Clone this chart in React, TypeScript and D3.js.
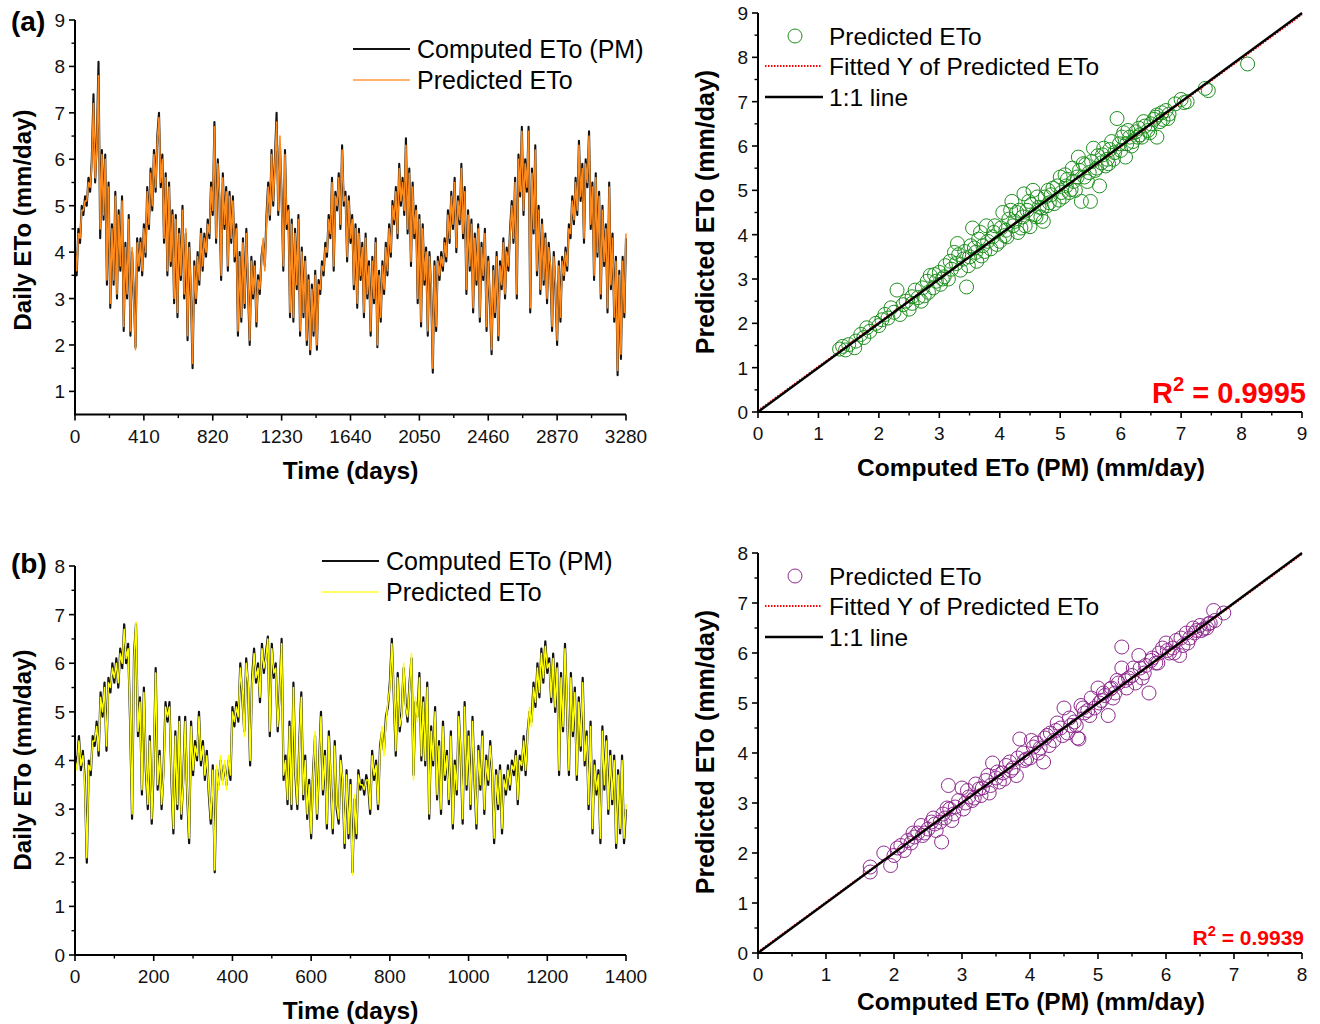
import React from 'react';
import * as d3 from 'd3';

const FONT = '"Liberation Sans", Arial, Helvetica, sans-serif';

// ---------- Panel (a) time series : daily ETo, one value every 10 days ----------
const tsAStepDays = 10;
const tsAComputed = [
  4.0,3.5,4.5,4.2,5.0,4.8,5.2,5.0,5.6,5.3,
  6.0,7.4,5.5,6.4,8.1,4.3,6.2,4.7,6.1,3.3,
  5.5,2.8,4.6,3.3,5.3,3.0,4.9,3.6,5.2,2.3,
  4.2,3.0,4.8,2.2,4.0,3.1,1.95,4.3,3.6,4.3,
  3.5,4.6,3.9,5.4,4.5,5.8,4.9,6.2,5.3,6.5,
  7.0,5.4,6.1,4.2,5.7,3.5,5.5,3.7,4.9,2.9,
  4.8,2.6,4.5,3.4,5.0,3.0,4.4,2.1,4.2,3.1,
  1.5,3.8,2.9,4.0,3.3,4.5,3.6,4.4,3.9,4.7,
  4.3,5.5,4.8,6.8,4.2,6.0,5.1,3.4,5.7,4.5,
  5.4,3.6,5.3,4.2,5.2,3.8,4.6,2.2,4.0,2.5,
  4.3,2.8,4.5,3.2,2.0,3.9,3.0,3.8,2.4,3.5,
  3.1,3.9,4.2,3.7,4.8,5.5,4.7,6.2,5.0,6.0,
  7.0,4.8,6.3,5.2,3.6,6.2,4.5,5.0,2.6,4.7,
  2.5,4.5,3.2,4.8,2.2,4.1,2.6,3.9,2.0,3.5,
  1.8,3.3,2.2,3.6,1.9,3.4,3.1,3.8,3.5,4.2,
  3.9,4.8,4.3,5.6,3.6,5.3,4.9,5.7,4.5,6.3,
  5.0,5.3,3.8,5.2,4.2,4.8,3.2,4.6,2.8,4.5,
  3.4,4.2,2.6,4.4,3.0,3.8,2.2,3.9,2.9,4.3,
  1.95,3.6,2.5,3.8,3.1,4.2,3.5,4.6,3.9,5.1,
  4.6,5.4,4.3,5.9,5.0,5.6,4.8,6.45,4.4,5.8,
  3.7,5.5,4.3,5.0,2.9,4.8,2.4,4.6,3.3,4.1,
  2.2,4.0,3.2,1.4,3.8,2.3,3.9,3.4,4.0,3.6,
  4.3,3.8,4.9,4.2,5.3,4.5,5.6,4.0,5.2,4.6,
  5.9,4.3,5.4,3.1,4.9,3.6,4.7,2.7,4.4,3.3,
  4.6,2.5,4.2,3.4,4.5,2.3,3.9,2.9,1.8,3.7,
  2.6,4.0,2.1,3.8,3.2,4.3,3.0,4.1,3.6,4.5,
  5.1,4.2,5.6,3.0,6.1,5.2,6.7,4.8,6.0,5.3,
  6.7,2.7,5.8,4.4,6.3,3.5,5.0,3.1,4.7,3.3,
  4.4,2.9,4.2,3.6,2.3,4.0,3.2,2.0,3.8,2.5,
  3.9,3.4,4.1,3.6,4.6,4.3,5.2,4.6,5.6,4.8,
  6.4,5.1,5.9,4.2,6.0,5.4,6.6,4.5,5.5,3.4,
  5.7,3.9,5.3,3.0,5.0,3.7,4.6,2.7,5.5,3.2,
  4.4,2.5,3.9,1.35,3.6,1.7,3.9,2.6,4.3,
];
const tsAPredicted = [
  4.1,3.6,4.4,4.3,4.9,4.9,5.1,5.1,5.5,5.4,
  5.9,7.2,5.6,6.3,7.8,4.5,6.1,4.8,6.0,3.4,
  5.4,2.9,4.5,3.4,5.2,3.1,4.8,3.7,5.1,2.4,
  4.1,3.1,4.7,2.3,4.1,3.0,1.9,4.2,3.7,4.2,
  3.6,4.5,4.0,5.3,4.6,5.7,5.0,6.1,5.4,6.4,
  6.9,5.5,6.0,4.3,5.6,3.6,5.4,3.8,4.8,3.0,
  4.7,2.7,4.4,3.5,4.9,3.1,4.5,2.2,4.1,3.2,
  1.6,3.7,3.0,3.9,3.4,4.4,3.7,4.3,4.0,4.6,
  4.4,5.4,4.9,6.7,4.3,5.9,5.2,3.5,5.6,4.6,
  5.3,3.7,5.2,4.3,5.1,3.9,4.5,2.3,3.9,2.6,
  4.2,2.9,4.4,3.3,2.1,3.8,3.1,3.7,2.5,3.4,
  3.2,3.8,4.3,3.6,4.7,5.4,4.8,6.1,5.1,5.9,
  6.8,4.9,6.5,5.1,3.7,6.1,4.6,4.9,2.7,4.6,
  2.6,4.4,3.3,4.7,2.3,4.0,2.7,3.8,2.1,3.4,
  1.9,3.2,2.3,3.5,2.0,3.3,3.2,3.7,3.6,4.1,
  4.0,4.7,4.4,5.5,3.7,5.2,5.0,5.6,4.6,6.2,
  5.1,5.2,3.9,5.1,4.3,4.7,3.3,4.5,2.9,4.4,
  3.5,4.1,2.7,4.3,3.1,3.7,2.3,3.8,3.0,4.2,
  2.0,3.5,2.6,3.7,3.2,4.1,3.6,4.5,4.0,5.0,
  4.7,5.3,4.4,5.8,5.1,5.5,4.9,6.3,4.5,5.7,
  3.8,5.4,4.4,4.9,3.0,4.7,2.5,4.5,3.4,4.0,
  2.3,3.9,3.3,1.5,3.7,2.4,3.8,3.5,3.9,3.7,
  4.2,3.9,4.8,4.3,5.2,4.6,5.5,4.1,5.1,4.7,
  5.8,4.4,5.3,3.2,4.8,3.7,4.6,2.8,4.3,3.4,
  4.5,2.6,4.1,3.5,4.4,2.4,3.8,3.0,1.9,3.6,
  2.7,3.9,2.2,3.7,3.3,4.2,3.1,4.0,3.7,4.4,
  5.0,4.3,5.5,3.1,6.0,5.3,6.6,4.9,5.9,5.4,
  6.6,2.8,5.7,4.5,6.2,3.6,4.9,3.2,4.6,3.4,
  4.3,3.0,4.1,3.7,2.4,3.9,3.3,2.1,3.7,2.6,
  3.8,3.5,4.0,3.7,4.5,4.4,5.1,4.7,5.5,4.9,
  6.3,5.2,5.8,4.3,5.9,5.5,6.5,4.6,5.4,3.5,
  5.6,4.0,5.2,3.1,4.9,3.8,4.5,2.8,5.4,3.3,
  4.3,2.6,3.8,1.45,3.5,1.8,3.8,2.7,4.4,
];
const tsAXTicks = [0, 410, 820, 1230, 1640, 2050, 2460, 2870, 3280];
const tsAYTicks = [1, 2, 3, 4, 5, 6, 7, 8, 9];

// ---------- Panel (b) time series : one value every 5 days ----------
const tsBStepDays = 5;
const tsBComputed = [
  4.1,3.9,4.5,3.8,4.2,3.6,1.9,4.0,3.7,4.5,4.3,4.8,4.1,5.4,4.9,5.6,4.2,5.7,5.4,6.0,
  5.6,6.1,5.5,6.3,5.9,6.8,6.0,6.4,4.8,2.8,6.2,6.8,4.5,5.3,3.3,5.5,3.8,3.0,4.5,2.7,
  3.9,5.9,3.4,4.2,3.0,3.8,5.2,4.8,5.2,3.6,2.5,4.6,3.0,4.9,2.8,3.6,4.9,3.3,2.3,4.8,
  3.7,4.4,4.0,5.0,3.9,4.4,3.6,4.2,3.3,2.7,3.9,1.7,3.8,3.5,4.0,3.6,3.9,3.5,4.0,3.6,
  5.1,4.7,5.2,4.8,6.0,5.3,4.6,6.1,5.5,3.9,5.7,6.3,5.6,6.0,5.2,6.4,5.8,6.2,6.55,4.5,
  6.4,5.7,6.0,4.6,5.4,6.5,3.6,4.1,3.1,4.8,3.0,5.6,3.7,3.0,4.4,5.4,3.2,4.1,2.8,3.6,
  2.4,3.8,4.5,2.8,3.9,5.0,3.3,4.2,2.6,4.6,3.5,2.5,4.4,3.0,2.7,4.1,3.5,2.2,3.8,2.4,
  3.6,1.7,3.2,2.4,3.8,3.4,3.6,3.3,3.7,3.5,2.9,4.2,3.6,4.0,3.0,4.3,4.6,4.2,4.9,5.1,
  5.6,6.5,5.3,4.1,5.8,4.6,5.0,5.9,5.2,4.8,5.6,6.1,3.7,5.2,4.9,5.8,4.0,5.3,3.9,5.6,
  2.8,4.7,3.9,5.1,3.2,4.4,2.9,4.8,3.6,4.2,3.1,4.6,2.6,4.0,3.3,5.0,4.1,2.7,5.2,3.4,
  4.6,3.0,4.9,3.6,2.6,4.3,3.4,4.6,2.9,4.1,3.5,4.4,3.7,2.3,3.8,3.0,3.9,2.5,3.7,3.3,
  3.9,3.4,4.0,3.7,4.2,3.1,4.1,3.8,4.5,3.7,4.6,5.0,4.8,5.6,5.1,6.0,5.3,6.3,5.6,6.45,
  5.8,6.1,5.2,6.2,5.0,6.0,3.7,5.8,4.6,6.4,5.1,3.7,5.8,4.5,5.5,3.6,5.3,4.2,5.7,3.9,
  4.6,3.0,4.8,2.5,4.0,3.3,3.8,2.3,4.7,3.4,4.5,2.9,4.2,3.1,4.1,2.2,3.8,2.5,4.1,2.3,
  3.0,
];
const tsBPredicted = [
  4.0,3.8,4.4,3.9,4.1,3.5,2.0,3.9,3.8,4.4,4.4,4.7,4.2,5.3,5.0,5.5,4.3,5.6,5.5,5.9,
  5.7,6.0,5.6,6.2,6.0,6.7,6.1,6.3,4.9,2.9,6.1,6.85,4.6,5.2,3.4,5.4,3.9,3.1,4.4,2.8,
  4.0,5.8,3.5,4.1,3.1,3.7,5.1,4.9,5.1,3.7,2.6,4.5,3.1,4.8,2.9,3.5,4.8,3.4,2.4,4.7,
  3.8,4.3,4.1,4.9,4.0,4.3,3.7,4.1,3.4,2.8,3.8,1.75,3.9,3.4,4.1,3.5,4.0,3.4,4.1,3.7,
  5.0,4.8,5.1,4.9,5.9,5.4,4.5,6.0,5.6,4.0,5.6,6.2,5.7,5.9,5.3,6.3,5.9,6.1,6.5,4.6,
  6.3,5.8,5.9,4.7,5.3,6.4,3.7,4.0,3.2,4.7,3.1,5.5,3.8,3.1,4.3,5.3,3.3,4.0,2.9,3.5,
  2.5,3.7,4.6,2.9,3.8,4.9,3.4,4.1,2.7,4.5,3.6,2.6,4.3,3.1,2.8,4.0,3.6,2.3,3.7,2.5,
  3.5,1.65,3.3,2.5,3.7,3.5,3.5,3.4,3.6,3.6,3.0,4.1,3.7,3.9,3.1,4.2,4.7,4.1,4.8,5.2,
  5.5,6.4,5.4,4.2,5.7,4.7,4.9,6.0,5.1,4.9,5.5,6.2,3.6,5.3,4.8,5.7,4.1,5.2,4.0,5.5,
  2.9,4.6,4.0,5.0,3.3,4.3,3.0,4.7,3.7,4.1,3.2,4.5,2.7,3.9,3.4,4.9,4.2,2.8,5.1,3.5,
  4.5,3.1,4.8,3.7,2.7,4.2,3.5,4.5,3.0,4.0,3.6,4.3,3.8,2.4,3.7,3.1,3.8,2.6,3.6,3.4,
  3.8,3.5,3.9,3.8,4.1,3.2,4.0,3.9,4.4,3.8,4.5,5.1,4.7,5.5,5.2,5.9,5.4,6.2,5.7,6.35,
  5.9,6.0,5.3,6.1,5.1,5.9,3.8,5.7,4.7,6.3,5.2,3.8,5.7,4.6,5.4,3.7,5.2,4.3,5.6,4.0,
  4.5,3.1,4.7,2.6,3.9,3.4,3.7,2.4,4.6,3.5,4.4,3.0,4.1,3.2,4.0,2.3,3.7,2.6,4.0,2.4,
  3.1,
];
const tsBXTicks = [0, 200, 400, 600, 800, 1000, 1200, 1400];
const tsBYTicks = [0, 1, 2, 3, 4, 5, 6, 7, 8];

// ---------- Panel (a) scatter ----------
const scAComputed = [
  1.35,1.4,1.45,1.5,1.6,1.62,1.7,1.75,1.8,1.85,1.95,2.0,2.05,2.1,2.15,2.2,2.25,2.3,2.35,2.4,
  2.45,2.5,2.55,2.6,2.65,2.7,2.72,2.8,2.82,2.85,2.9,2.95,3.0,3.02,3.08,3.1,3.15,3.2,3.25,3.28,
  3.3,3.35,3.4,3.45,3.48,3.5,3.52,3.55,3.6,3.62,3.65,3.7,3.72,3.78,3.8,3.85,3.88,3.9,3.95,4.0,
  4.02,4.05,4.08,4.1,4.15,4.2,4.22,4.25,4.3,4.32,4.38,4.4,4.42,4.45,4.5,4.52,4.55,4.58,4.6,4.65,
  4.7,4.72,4.75,4.8,4.82,4.85,4.9,4.95,5.0,5.02,5.05,5.1,5.12,5.18,5.2,5.25,5.28,5.3,5.32,5.35,
  5.4,5.42,5.48,5.5,5.52,5.55,5.6,5.62,5.65,5.68,5.7,5.75,5.8,5.82,5.85,5.9,5.94,5.98,6.0,6.02,
  6.05,6.08,6.1,6.15,6.2,6.25,6.3,6.32,6.35,6.4,6.45,6.5,6.55,6.6,6.6,6.65,6.7,6.75,6.8,6.9,
  7.0,7.05,7.1,7.4,7.45,8.1,
  2.55,2.75,2.92,3.05,3.18,3.32,3.42,3.58,3.68,3.75,3.92,4.12,4.18,4.28,4.35,4.48,4.62,4.68,4.78,4.88,
  4.98,5.08,5.15,5.22,5.38,5.45,5.58,5.72,5.78,5.88,6.12,6.18,6.28,6.38,6.48,6.58,6.68,6.78,
];
const scAPredicted = [
  1.42,1.48,1.4,1.52,1.45,1.6,1.75,1.68,1.9,1.82,2.0,1.95,2.08,2.2,2.12,2.35,2.25,2.75,2.2,2.42,
  2.5,2.32,2.6,2.75,2.58,2.5,2.8,2.95,2.7,3.08,2.8,2.95,3.15,2.88,3.05,3.3,3.0,3.22,3.6,3.35,
  3.8,3.2,3.45,2.82,3.3,3.5,3.75,4.15,3.6,3.4,3.9,3.52,3.75,4.2,3.85,3.68,3.95,4.05,3.78,3.85,
  4.15,4.5,3.98,4.1,4.35,4.75,4.2,4.3,4.05,4.55,4.4,4.92,4.2,4.55,4.18,4.68,5.0,4.45,4.4,4.62,
  4.6,4.3,4.85,5.0,4.72,4.9,4.7,5.1,5.3,4.95,4.85,5.1,5.25,5.02,5.5,5.0,5.3,5.75,5.45,4.75,
  5.3,5.58,5.4,4.75,5.65,5.95,5.5,5.78,5.1,5.62,5.8,5.55,5.6,5.92,6.1,5.85,6.62,6.05,5.9,6.2,
  6.3,5.75,6.05,6.2,6.1,6.32,6.4,6.25,6.2,6.45,6.35,6.5,6.6,6.2,6.7,6.55,6.6,6.8,6.72,6.95,
  7.05,6.98,7.0,7.3,7.25,7.85,
  2.45,2.62,3.1,3.0,3.4,3.55,3.62,3.7,4.05,3.62,4.2,3.95,4.55,4.5,4.15,4.75,4.85,4.4,4.65,5.05,
  4.78,5.35,4.95,5.2,5.6,5.2,5.45,5.95,5.7,5.7,6.35,6.0,6.2,6.55,6.3,6.65,6.75,6.62,
];
const scAFit = { intercept: 0.03, slope: 0.993 };
const scATicks = [0, 1, 2, 3, 4, 5, 6, 7, 8, 9];

// ---------- Panel (b) scatter ----------
const scBComputed = [
  1.65,1.65,1.85,1.95,2.0,2.05,2.1,2.2,2.25,2.3,2.35,2.4,2.45,2.5,2.55,2.6,2.62,2.7,2.72,2.75,
  2.8,2.82,2.85,2.9,2.95,3.0,3.02,3.05,3.1,3.15,3.2,3.25,3.3,3.35,3.4,3.42,3.45,3.5,3.52,3.6,
  3.62,3.7,3.72,3.8,3.82,3.85,3.9,3.95,4.0,4.05,4.1,4.15,4.2,4.22,4.25,4.3,4.35,4.4,4.45,4.5,
  4.55,4.6,4.65,4.7,4.72,4.75,4.8,4.85,4.9,4.95,5.0,5.02,5.05,5.1,5.15,5.18,5.2,5.25,5.3,5.35,
  5.35,5.4,5.45,5.5,5.55,5.6,5.62,5.65,5.7,5.75,5.78,5.8,5.85,5.9,5.95,6.0,6.05,6.1,6.15,6.2,
  6.25,6.3,6.35,6.4,6.45,6.5,6.55,6.6,6.65,6.7,6.72,6.85,
  2.15,2.28,2.42,2.58,2.68,2.78,2.88,3.08,3.18,3.28,3.38,3.55,3.65,3.75,3.92,4.02,4.12,4.28,4.38,4.48,
  4.58,4.68,4.78,4.88,5.08,5.22,5.28,5.42,5.52,5.68,5.88,6.02,6.12,6.22,6.32,6.42,6.52,6.62,
];
const scBPredicted = [
  1.72,1.62,2.0,1.75,1.95,2.1,2.15,2.25,2.2,2.32,2.4,2.55,2.4,2.48,2.62,2.58,2.45,2.22,2.78,2.7,
  3.35,2.88,2.65,2.92,3.05,3.3,2.88,3.0,3.12,3.05,3.38,3.28,3.3,3.45,3.2,3.35,3.8,3.5,3.62,3.6,
  3.48,3.82,3.65,3.55,3.9,4.28,4.0,3.88,3.9,4.12,4.2,4.1,3.82,4.3,4.35,4.4,4.25,4.6,4.5,4.9,
  4.4,4.55,4.62,4.3,4.28,4.95,4.8,4.85,5.1,4.9,5.3,5.0,5.05,5.15,4.75,5.28,5.3,5.2,5.4,6.12,
  5.7,5.45,5.5,5.55,5.4,5.95,5.7,5.5,5.75,5.2,5.85,5.9,5.8,6.0,6.1,6.2,6.0,6.1,6.25,5.95,
  6.15,6.4,6.3,6.5,6.45,6.55,6.48,6.5,6.6,6.85,6.65,6.8,
  2.05,2.4,2.35,2.7,2.62,2.9,2.78,3.25,3.1,3.15,3.55,3.42,3.75,3.7,3.85,4.25,4.0,4.15,4.45,4.35,
  4.7,4.55,4.9,4.75,5.2,5.1,5.45,5.3,5.7,5.6,5.8,6.05,6.0,6.3,6.2,6.4,6.45,6.58,
];
const scBFit = { intercept: 0.02, slope: 0.995 };
const scBTicks = [0, 1, 2, 3, 4, 5, 6, 7, 8];

// ---------- text ----------
const legendComputed = 'Computed ETo (PM)';
const legendPredicted = 'Predicted ETo';
const legendFitted = 'Fitted Y of Predicted ETo';
const legendOneToOne = '1:1 line';
const titleTime = 'Time (days)';
const titleDaily = 'Daily ETo (mm/day)';
const titleScX = 'Computed ETo (PM) (mm/day)';
const titleScY = 'Predicted ETo (mm/day)';
const r2A = '0.9995';
const r2B = '0.9939';

const mids = (arr: number[]) => d3.pairs(arr).map(([a, b]) => (a + b) / 2);

function Axes({ x, y, xTicks, yTicks }: any) {
  const [x0, x1] = x.range();
  const [y0, y1] = y.range();
  const xMinor = mids(xTicks);
  const yMinor = mids(yTicks);
  return (
    <g>
      {xTicks.map((t: number) => (
        <g key={'xt' + t}>
          <line x1={x(t)} x2={x(t)} y1={y0} y2={y0 + 6} stroke="#000" strokeWidth={1.6} />
          <text x={x(t)} y={y0 + 28} textAnchor="middle" fontSize={19} fill="#111">{t}</text>
        </g>
      ))}
      {xMinor.map((t: number) => (
        <line key={'xm' + t} x1={x(t)} x2={x(t)} y1={y0} y2={y0 + 3.5} stroke="#000" strokeWidth={1.4} />
      ))}
      {yTicks.map((t: number) => (
        <g key={'yt' + t}>
          <line x1={x0 - 6} x2={x0} y1={y(t)} y2={y(t)} stroke="#000" strokeWidth={1.6} />
          <text x={x0 - 10} y={y(t) + 7} textAnchor="end" fontSize={19} fill="#111">{t}</text>
        </g>
      ))}
      {yMinor.map((t: number) => (
        <line key={'ym' + t} x1={x0 - 3.5} x2={x0} y1={y(t)} y2={y(t)} stroke="#000" strokeWidth={1.4} />
      ))}
      <line x1={x0} x2={x1} y1={y0} y2={y0} stroke="#000" strokeWidth={2} />
      <line x1={x0} x2={x0} y1={y0 + 1} y2={y1} stroke="#000" strokeWidth={2} />
    </g>
  );
}

function YTitle({ cx, cy, text, size }: any) {
  return (
    <text transform={`translate(${cx},${cy}) rotate(-90)`} textAnchor="middle" dy="0.36em"
      fontSize={size} fontWeight="bold" fill="#000">{text}</text>
  );
}

function TimeSeries({ p }: any) {
  const x = d3.scaleLinear().domain(p.xDomain).range(p.xRange);
  const y = d3.scaleLinear().domain(p.yDomain).range(p.yRange);
  const line = d3.line<number>().x((_, i) => x(i * p.step)).y((d) => y(d));
  const cx = (p.xRange[0] + p.xRange[1]) / 2;
  return (
    <g>
      <path d={line(p.computed) || ''} fill="none" stroke="#111" strokeWidth={p.blackW} strokeLinejoin="round" />
      <path d={line(p.predicted) || ''} fill="none" stroke={p.predColor} strokeWidth={p.predW} strokeLinejoin="round" />
      <Axes x={x} y={y} xTicks={p.xTicks} yTicks={p.yTicks} />
      <text x={cx} y={y.range()[0] + 64} textAnchor="middle" fontSize={24.5} fontWeight="bold">{titleTime}</text>
      <YTitle cx={22} cy={p.yTitleY} text={titleDaily} size={24} />
      <text x={11} y={p.tagY} fontSize={28} fontWeight="bold">{p.tag}</text>
      <line x1={p.legX} x2={p.legX + 57} y1={p.legY} y2={p.legY} stroke="#111" strokeWidth={2} />
      <text x={p.legX + 64} y={p.legY + 8.5} fontSize={25}>{legendComputed}</text>
      <line x1={p.legX} x2={p.legX + 57} y1={p.legY + 31} y2={p.legY + 31} stroke={p.legColor} strokeWidth={1.3} />
      <text x={p.legX + 64} y={p.legY + 39.5} fontSize={25}>{legendPredicted}</text>
    </g>
  );
}

function Scatter({ p }: any) {
  const x = d3.scaleLinear().domain(p.domain).range(p.xRange);
  const y = d3.scaleLinear().domain(p.domain).range(p.yRange);
  const [d0, d1] = p.domain;
  const cx = (p.xRange[0] + p.xRange[1]) / 2;
  return (
    <g>
      {p.xs.map((v: number, i: number) => (
        <circle key={i} cx={x(v)} cy={y(p.ys[i])} r={7} fill="none" stroke={p.color} strokeWidth={1} />
      ))}
      <line x1={x(d0)} y1={y(p.fit.intercept + p.fit.slope * d0)} x2={x(d1)} y2={y(p.fit.intercept + p.fit.slope * d1)}
        stroke="#ff0000" strokeWidth={2} strokeDasharray="1.5 1.5" />
      <line x1={x(d0)} y1={y(d0)} x2={x(d1)} y2={y(d1)} stroke="#000" strokeWidth={2.4} />
      <Axes x={x} y={y} xTicks={p.ticks} yTicks={p.ticks} />
      <text x={cx + 1} y={y.range()[0] + p.xTitleDy} textAnchor="middle" fontSize={24.5} fontWeight="bold">{titleScX}</text>
      <YTitle cx={705} cy={p.yTitleY} text={titleScY} size={25} />
      <circle cx={795} cy={p.legY} r={7} fill="none" stroke={p.color} strokeWidth={1} />
      <text x={829} y={p.legY + 9} fontSize={24.5}>{legendPredicted}</text>
      <line x1={765} x2={821} y1={p.legY + 30} y2={p.legY + 30} stroke="#ff0000" strokeWidth={2} strokeDasharray="1.5 1.5" />
      <text x={829} y={p.legY + 39} fontSize={24.5}>{legendFitted}</text>
      <line x1={765} x2={823} y1={p.legY + 61} y2={p.legY + 61} stroke="#000" strokeWidth={2.4} />
      <text x={829} y={p.legY + 70} fontSize={24.5}>{legendOneToOne}</text>
      <text x={p.r2X} y={p.r2Y} textAnchor="end" fontSize={p.r2Size} fontWeight="bold" fill="#ff0000">
        R<tspan dy={-p.r2Size * 0.42} fontSize={p.r2Size * 0.7}>2</tspan>
        <tspan dy={p.r2Size * 0.42}>{' = ' + p.r2}</tspan>
      </text>
    </g>
  );
}

export default function App() {
  return (
    <svg width={1320} height={1024} style={{ position: 'absolute', left: 0, top: 0, background: '#fff' }}
      fontFamily={FONT}>
      <rect x={0} y={0} width={1320} height={1024} fill="#fff" />
      <TimeSeries p={{
        xDomain: [0, 3280], xRange: [75, 626], yDomain: [0.5, 9], yRange: [414.6, 20],
        step: tsAStepDays, computed: tsAComputed, predicted: tsAPredicted, predColor: '#ff8a1c',
        blackW: 2.1, predW: 1.6,
        xTicks: tsAXTicks, yTicks: tsAYTicks, yTitleY: 220, tag: '(a)', tagY: 31,
        legX: 353, legY: 49, legColor: '#ff9a3c',
      }} />
      <TimeSeries p={{
        xDomain: [0, 1400], xRange: [75, 626], yDomain: [0, 8], yRange: [955, 566],
        step: tsBStepDays, computed: tsBComputed, predicted: tsBPredicted, predColor: '#ffff00',
        blackW: 2.2, predW: 1.5,
        xTicks: tsBXTicks, yTicks: tsBYTicks, yTitleY: 760, tag: '(b)', tagY: 573,
        legX: 322, legY: 561, legColor: '#ffff33',
      }} />
      <Scatter p={{
        domain: [0, 9], xRange: [758, 1302], yRange: [412, 13], xs: scAComputed, ys: scAPredicted,
        color: '#1e8f1e', fit: scAFit, ticks: scATicks, xTitleDy: 64, yTitleY: 212, legY: 36,
        r2: r2A, r2X: 1306, r2Y: 403, r2Size: 29,
      }} />
      <Scatter p={{
        domain: [0, 8], xRange: [758, 1302], yRange: [953, 553], xs: scBComputed, ys: scBPredicted,
        color: '#8e2a8e', fit: scBFit, ticks: scBTicks, xTitleDy: 57, yTitleY: 752, legY: 576,
        r2: r2B, r2X: 1304, r2Y: 945, r2Size: 21,
      }} />
    </svg>
  );
}
